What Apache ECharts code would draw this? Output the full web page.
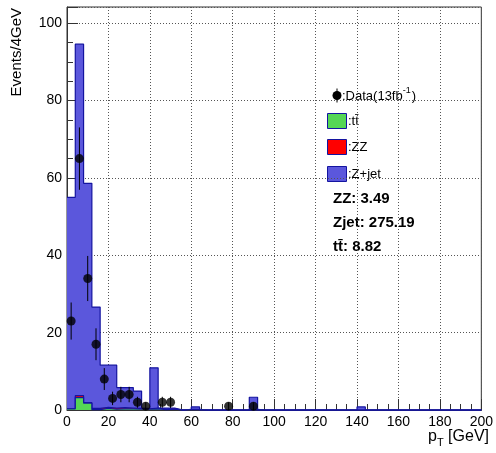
<!DOCTYPE html>
<html>
<head>
<meta charset="utf-8">
<script src="https://cdn.jsdelivr.net/npm/echarts@6/dist/echarts.min.js"></script>
<style>
  html, body { margin: 0; padding: 0; background: #fff; }
  #chart { width: 496px; height: 453px; }
</style>
</head>
<body>
<div id="chart"></div>
<script>
// pT spectrum, 4 GeV bins from 0 to 200 GeV
const binWidth = 4;
const binLowEdges = [
  0, 4, 8, 12, 16, 20, 24, 28, 32, 36, 40, 44, 48, 52, 56, 60, 64, 68, 72, 76,
  80, 84, 88, 92, 96, 100, 104, 108, 112, 116, 120, 124, 128, 132, 136, 140, 144, 148, 152, 156,
  160, 164, 168, 172, 176, 180, 184, 188, 192, 196
];

// Expected events per bin for each background
const ttbar = [
  0.3, 3.2, 1.8, 0.1, 0.4, 0.2, 0.3, 0.3, 0.2, 0.2, 0.3, 0.1, 0.2, 0, 0.1, 0.1, 0, 0, 0, 0,
  0, 0, 0.1, 0, 0, 0, 0, 0, 0, 0, 0, 0, 0, 0, 0, 0, 0, 0, 0, 0,
  0, 0, 0, 0, 0, 0, 0, 0, 0, 0
];
const zz = [
  0.05, 0.5, 0.1, 0.3, 0.3, 0.3, 0.3, 0.2, 0.2, 0.1, 0.2, 0.1, 0.1, 0, 0.1, 0.1, 0, 0, 0, 0,
  0, 0, 0.1, 0, 0, 0, 0, 0, 0, 0, 0, 0, 0, 0, 0, 0, 0, 0, 0, 0,
  0, 0, 0, 0, 0, 0, 0, 0, 0, 0
];
const zjet = [
  54.65, 90.9, 56.7, 26.2, 10.9, 11.1, 5.2, 5.3, 4.5, 0.1, 10.4, 0.3, 0.2, 0, 0, 0.6, 0, 0, 0, 0,
  0, 0, 3.1, 0, 0, 0, 0, 0, 0, 0, 0, 0, 0, 0, 0, 0.8, 0, 0, 0, 0,
  0, 0, 0, 0, 0, 0, 0, 0, 0, 0
];

// Observed data (bin centres and counts)
const dataPt = [2, 6, 10, 14, 18, 22, 26, 30, 34, 38, 46, 50, 78, 90];
const dataCounts = [23, 65, 34, 17, 8, 3, 4, 4, 2, 1, 2, 2, 1, 1];

// Axis tick labels
const xTickLabels = [0, 20, 40, 60, 80, 100, 120, 140, 160, 180, 200];
const yTickLabels = [0, 20, 40, 60, 80, 100];

const FONT = 'Liberation Sans, Arial, Helvetica, sans-serif';
const COL_ZJET = '#5b57dc';
const COL_ZZ = '#ff0000';
const COL_TT = '#55d655';
const COL_EDGE = '#1414a0';

// Cumulative stack levels
function stackSum(parts) {
  return binLowEdges.map((_, i) => parts.reduce((s, p) => s + p[i], 0));
}
const levelTT = stackSum([ttbar]);
const levelZZ = stackSum([ttbar, zz]);
const levelAll = stackSum([ttbar, zz, zjet]);

function stepData(levels) {
  const pts = binLowEdges.map((x, i) => [x, levels[i]]);
  pts.push([binLowEdges[binLowEdges.length - 1] + binWidth, levels[levels.length - 1]]);
  return pts;
}

function histSeries(name, levels, fill, z) {
  return {
    name: name,
    type: 'line',
    step: 'end',
    data: stepData(levels),
    showSymbol: false,
    symbol: 'none',
    clip: false,
    z: z,
    lineStyle: { color: COL_EDGE, width: 1.2 },
    areaStyle: { color: fill, opacity: 1, origin: 'start' },
    silent: true,
    animation: false
  };
}

const dataPoints = dataPt.map((x, i) => [x, dataCounts[i], Math.sqrt(dataCounts[i])]);

const chart = echarts.init(document.getElementById('chart'), null, { renderer: 'canvas' });

// text width helper for composing legend strings
const measureCtx = document.createElement('canvas').getContext('2d');
function textWidth(str, size, weight) {
  measureCtx.font = (weight || 'normal') + ' ' + size + 'px ' + FONT;
  return measureCtx.measureText(str).width;
}

const legFont = 13;
const dataLabelMain = ':Data(13fb';
const dataLabelSup = '-1';
const dataLabelEnd = ')';
const legX = 342;
const supX = legX + textWidth(dataLabelMain, legFont);
const endX = supX + textWidth(dataLabelSup, 9) + 1;

const boldSize = 15;
const summaryLines = ['ZZ: 3.49', 'Zjet: 275.19', 'tt\u0304: 8.82'];

const titleSize = 16;
const geVW = textWidth('[GeV]', titleSize) + textWidth(' ', titleSize);
const subX = 489 - geVW - textWidth('T', 11);

const graphics = [
  // axis titles
  {
    type: 'text', x: 17, y: 8, rotation: Math.PI / 2,
    style: { text: 'Events/4GeV', font: '15px ' + FONT, fill: '#000', align: 'right', verticalAlign: 'middle' }
  },
  {
    type: 'text', x: 489, y: 437,
    style: { text: '[GeV]', font: titleSize + 'px ' + FONT, fill: '#000', align: 'right', verticalAlign: 'middle' }
  },
  {
    type: 'text', x: subX, y: 443,
    style: { text: 'T', font: '11px ' + FONT, fill: '#000', align: 'left', verticalAlign: 'middle' }
  },
  {
    type: 'text', x: subX, y: 437,
    style: { text: 'p', font: titleSize + 'px ' + FONT, fill: '#000', align: 'right', verticalAlign: 'middle' }
  },
  // legend: data
  {
    type: 'line', shape: { x1: 337, y1: 88.5, x2: 337, y2: 102.5 },
    style: { stroke: '#000', lineWidth: 1 }
  },
  {
    type: 'circle', shape: { cx: 337, cy: 95.5, r: 4.5 },
    style: { fill: '#000' }
  },
  {
    type: 'text', x: legX, y: 96,
    style: { text: dataLabelMain, font: legFont + 'px ' + FONT, fill: '#000', verticalAlign: 'middle' }
  },
  {
    type: 'text', x: supX, y: 91,
    style: { text: dataLabelSup, font: '9px ' + FONT, fill: '#000', verticalAlign: 'middle' }
  },
  {
    type: 'text', x: endX, y: 96,
    style: { text: dataLabelEnd, font: legFont + 'px ' + FONT, fill: '#000', verticalAlign: 'middle' }
  },
  // legend: boxes
  { type: 'rect', shape: { x: 327.5, y: 113.5, width: 19, height: 15 }, style: { fill: COL_TT, stroke: COL_EDGE, lineWidth: 1 } },
  { type: 'text', x: 348, y: 121.5, style: { text: ':tt\u0304', font: legFont + 'px ' + FONT, fill: '#000', verticalAlign: 'middle' } },
  { type: 'rect', shape: { x: 327.5, y: 139.5, width: 19, height: 15 }, style: { fill: COL_ZZ, stroke: COL_EDGE, lineWidth: 1 } },
  { type: 'text', x: 348, y: 147.5, style: { text: ':ZZ', font: legFont + 'px ' + FONT, fill: '#000', verticalAlign: 'middle' } },
  { type: 'rect', shape: { x: 327.5, y: 166.5, width: 19, height: 15 }, style: { fill: COL_ZJET, stroke: COL_EDGE, lineWidth: 1 } },
  { type: 'text', x: 348, y: 174, style: { text: ':Z+jet', font: legFont + 'px ' + FONT, fill: '#000', verticalAlign: 'middle' } }
];
summaryLines.forEach((s, i) => {
  graphics.push({
    type: 'text', x: 333, y: 199 + i * 24,
    style: { text: s, font: 'bold ' + boldSize + 'px ' + FONT, fill: '#000', verticalAlign: 'middle' }
  });
});

const option = {
  animation: false,
  backgroundColor: '#fff',
  grid: {
    left: 67, right: 14, top: 7, bottom: 43,
    show: true, borderColor: '#333', borderWidth: 1, backgroundColor: 'transparent'
  },
  xAxis: {
    type: 'value', min: 0, max: 200, interval: 20,
    axisLine: { show: true, onZero: false, lineStyle: { color: '#333', width: 1 } },
    axisTick: { show: true, inside: true, length: 11, lineStyle: { color: '#333' } },
    minorTick: { show: true, splitNumber: 4, length: 6, lineStyle: { color: '#333' } },
    splitLine: { show: true, lineStyle: { color: '#555', type: [1, 2], width: 1 } },
    axisLabel: {
      color: '#000', fontSize: 14, fontFamily: FONT, margin: 5,
      formatter: v => (xTickLabels.indexOf(v) >= 0 ? String(v) : '')
    }
  },
  yAxis: {
    type: 'value', min: 0, max: 104.2, interval: 20,
    axisLine: { show: true, onZero: false, lineStyle: { color: '#333', width: 1 } },
    axisTick: { show: true, inside: true, length: 11, lineStyle: { color: '#333' } },
    minorTick: { show: true, splitNumber: 4, length: 6, lineStyle: { color: '#333' } },
    splitLine: { show: true, lineStyle: { color: '#555', type: [1, 2], width: 1 } },
    axisLabel: {
      color: '#000', fontSize: 14, fontFamily: FONT, margin: 5, showMaxLabel: false,
      formatter: v => (yTickLabels.indexOf(v) >= 0 ? String(v) : '')
    }
  },
  series: [
    histSeries('Z+jet', levelAll, COL_ZJET, 2),
    histSeries('ZZ', levelZZ, COL_ZZ, 3),
    histSeries('tt', levelTT, COL_TT, 4),
    {
      name: 'Data errors',
      type: 'custom',
      z: 9,
      silent: true,
      data: dataPoints,
      renderItem: function (params, api) {
        const x = api.value(0), y = api.value(1), e = api.value(2);
        const lo = api.coord([x, Math.max(0, y - e)]);
        const hi = api.coord([x, y + e]);
        return {
          type: 'line',
          shape: { x1: lo[0], y1: lo[1], x2: hi[0], y2: hi[1] },
          style: { stroke: '#000', lineWidth: 1 }
        };
      }
    },
    {
      name: 'Data',
      type: 'scatter',
      z: 10,
      silent: true,
      symbol: 'circle',
      symbolSize: 9,
      itemStyle: { color: '#000' },
      data: dataPoints.map(p => [p[0], p[1]])
    }
  ],
  graphic: graphics
};

chart.setOption(option);
</script>
</body>
</html>
